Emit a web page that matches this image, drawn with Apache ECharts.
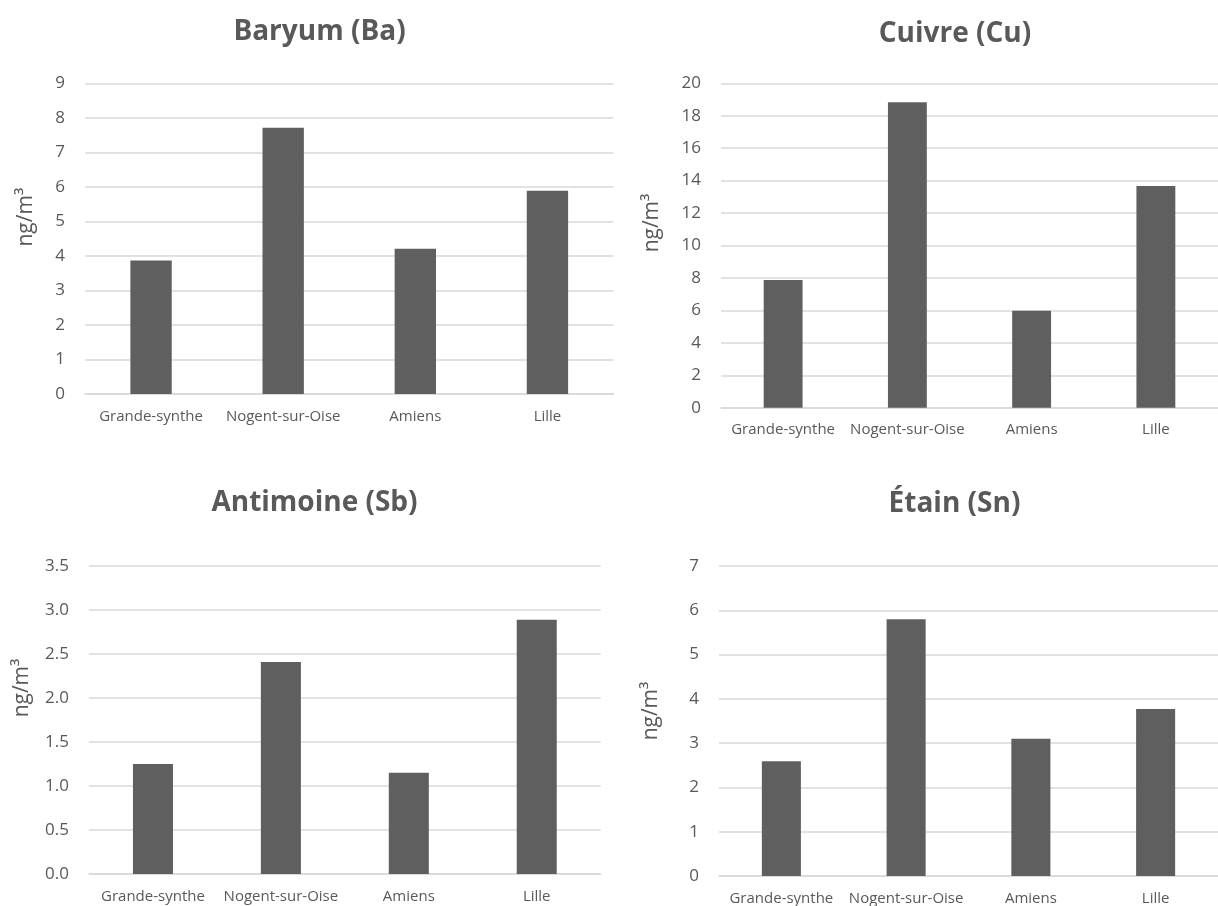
<!DOCTYPE html>
<html>
<head>
<meta charset="utf-8">
<script src="https://cdn.jsdelivr.net/npm/echarts@6/dist/echarts.min.js"></script>
<style>
html,body{margin:0;padding:0;background:#fff;}
#chart{width:1218px;height:906px;}
</style>
</head>
<body>
<div id="chart"></div>
<script>
const categories = ['Grande-synthe', 'Nogent-sur-Oise', 'Amiens', 'Lille'];
const titles = ['Baryum (Ba)', 'Cuivre (Cu)', 'Antimoine (Sb)', 'Étain (Sn)'];
const bariumValues = [3.87, 7.71, 4.21, 5.89];
const copperValues = [7.87, 18.83, 5.98, 13.67];
const antimonyValues = [1.25, 2.41, 1.15, 2.89];
const tinValues = [2.59, 5.80, 3.10, 3.77];
const yMax = [9, 20, 3.5, 7];
const yInterval = [1, 2, 0.5, 1];
const yDecimals = [0, 0, 1, 0];
const unitLabel = 'ng/m³';

const seriesValues = [bariumValues, copperValues, antimonyValues, tinValues];

const FONT = '"Open Sans", "Noto Sans", sans-serif';
const TEXT = '#595959';
const GRIDC = '#d9d9d9';
const BAR = '#5f5f5f';

const grids = [
  {left: 85, top: 83.3, width: 528.5, height: 310.7},
  {left: 721, top: 83.3, width: 507, height: 324.4},
  {left: 89, top: 566, width: 511.7, height: 308},
  {left: 719, top: 566, width: 509.7, height: 311}
];
const titlePos = [[314.5, 13.5], [950, 15], [309.5, 484.5], [949.5, 485]];
const nameGaps = [48, 58, 56, 57];
const nameShift = [43, 45, 64, 20];

const chart = echarts.init(document.getElementById('chart'), null, {renderer: 'canvas'});

const option = {
  backgroundColor: '#ffffff',
  animation: false,
  title: titles.map((t, i) => ({
    text: t,
    left: titlePos[i][0],
    top: titlePos[i][1],
    textAlign: 'center',
    textStyle: {fontFamily: FONT, fontWeight: 'bold', fontSize: 28, color: TEXT}
  })),
  grid: grids.map(g => Object.assign({containLabel: false}, g)),
  xAxis: grids.map((g, i) => ({
    type: 'category',
    gridIndex: i,
    data: categories,
    axisTick: {show: false},
    axisLine: {show: true, lineStyle: {color: GRIDC, width: 1.5}},
    axisLabel: {color: TEXT, fontFamily: FONT, fontSize: 15, margin: 15, interval: 0}
  })),
  yAxis: grids.map((g, i) => ({
    type: 'value',
    gridIndex: i,
    min: 0,
    max: yMax[i],
    interval: yInterval[i],
    name: unitLabel,
    nameLocation: 'middle',
    nameGap: nameGaps[i],
    nameRotate: 90,
    nameTextStyle: {color: TEXT, fontFamily: FONT, fontSize: 21, padding: [0, 0, 0, nameShift[i]]},
    axisLine: {show: false},
    axisTick: {show: false},
    splitLine: {show: true, lineStyle: {color: GRIDC, width: 1.5}},
    axisLabel: {
      color: TEXT, fontFamily: FONT, fontSize: 17, margin: 20,
      formatter: v => v.toFixed(yDecimals[i])
    }
  })),
  series: seriesValues.map((vals, i) => ({
    type: 'bar',
    xAxisIndex: i,
    yAxisIndex: i,
    data: vals,
    barWidth: '31.3%',
    itemStyle: {color: BAR}
  }))
};
chart.setOption(option);
</script>
</body>
</html>
